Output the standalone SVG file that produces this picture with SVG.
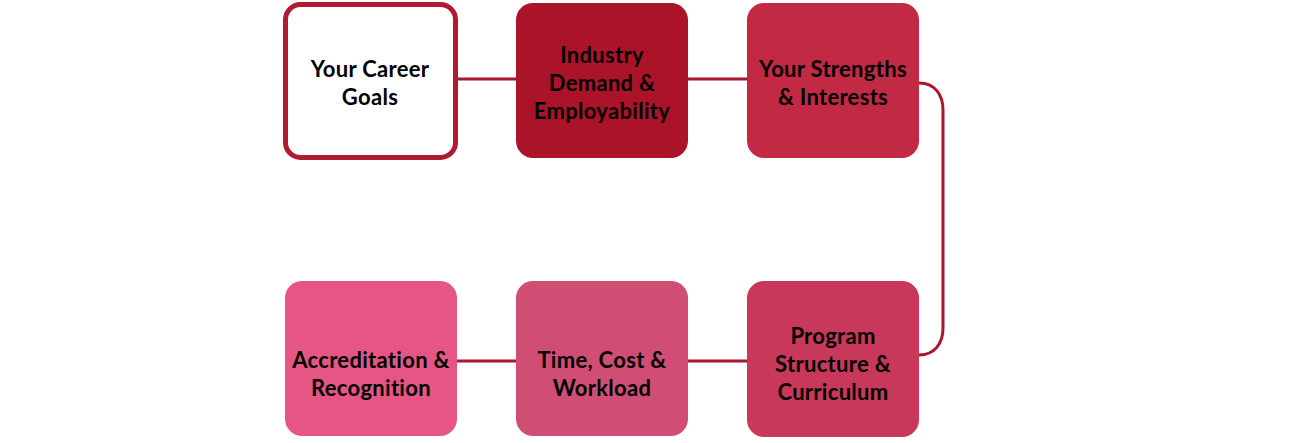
<svg xmlns="http://www.w3.org/2000/svg" width="1296" height="443" viewBox="0 0 1296 443">
<style>
.lbl{font-family:Lato,"Open Sans","Liberation Sans",sans-serif;font-weight:700;font-size:22px;letter-spacing:0.3px;fill:#000;text-anchor:middle}
.conn{fill:none;stroke:#A8172E;stroke-width:3}
</style>
<rect width="1296" height="443" fill="#fff"/>
<g id="connectors">
<line class="conn" x1="457" y1="79" x2="517" y2="79"/>
<line class="conn" x1="687" y1="79" x2="748" y2="79"/>
<path class="conn" d="M919,83 C935,83 943,95 943,110 V328 C943,343 935,355 919,355"/>
<line class="conn" x1="456" y1="361" x2="517" y2="361"/>
<line class="conn" x1="687" y1="361" x2="748" y2="361"/>
</g>
<g id="node-career">
<rect x="285.5" y="4.5" width="170" height="153" rx="15" fill="#fff" stroke="#B01B34" stroke-width="5"/>
<text class="lbl" x="370" y="77">Your Career</text>
<text class="lbl" x="370" y="105">Goals</text>
</g>
<g id="node-industry">
<rect x="516" y="3" width="172" height="155" rx="17" fill="#AB1428"/>
<text class="lbl" x="602" y="63">Industry</text>
<text class="lbl" x="602" y="91">Demand &amp;</text>
<text class="lbl" x="602" y="119">Employability</text>
</g>
<g id="node-strengths">
<rect x="747" y="3" width="172" height="155" rx="17" fill="#C12944"/>
<text class="lbl" x="833" y="77">Your Strengths</text>
<text class="lbl" x="833" y="105">&amp; Interests</text>
</g>
<g id="node-program">
<rect x="747" y="281" width="172" height="156" rx="17" fill="#C7385B"/>
<text class="lbl" x="833" y="344">Program</text>
<text class="lbl" x="833" y="372">Structure &amp;</text>
<text class="lbl" x="833" y="400">Curriculum</text>
</g>
<g id="node-time">
<rect x="516" y="281" width="172" height="155" rx="17" fill="#D04E74"/>
<text class="lbl" x="602" y="368">Time, Cost &amp;</text>
<text class="lbl" x="602" y="396">Workload</text>
</g>
<g id="node-accreditation">
<rect x="285" y="281" width="172" height="155" rx="17" fill="#E55685"/>
<text class="lbl" x="371" y="368">Accreditation &amp;</text>
<text class="lbl" x="371" y="396">Recognition</text>
</g>
</svg>
